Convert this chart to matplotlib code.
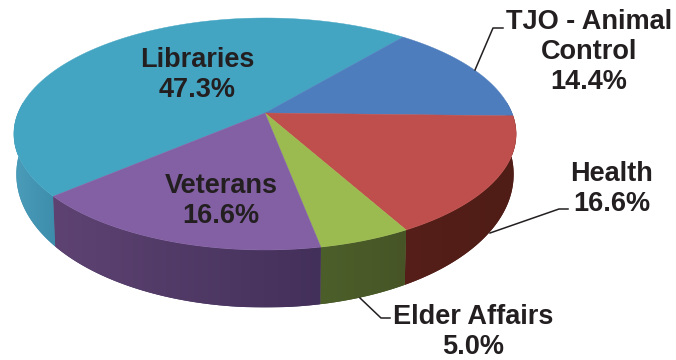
import numpy as np
import matplotlib
matplotlib.use('Agg')
import matplotlib.pyplot as plt
from matplotlib.colors import LinearSegmentedColormap
from matplotlib.patches import Polygon

labels = ['Libraries', 'TJO - Animal\nControl', 'Health', 'Elder Affairs', 'Veterans']
values = [47.3, 14.4, 16.6, 5.0, 16.6]
top_colors = ['#44a5c3', '#4e7dbd', '#bf4f4c', '#9bbb50', '#8260a3']
wall_left = ['#4a9dba', '#3d5f8f', '#561f19', '#4c5f2a', '#5e4372']
wall_right = ['#3d8cab', '#3d5f8f', '#4f1c16', '#475526', '#43305a']

# pie geometry in picture pixels, k tilts the circle into perspective
cx, cy = 265, 113
a, b, k = 247, 112.2, 0.181
start_angle = 220.9


def project(t, lower=False):
    u, v = np.cos(t), np.sin(t)
    w = 1 + k * v
    x = a * u / w
    y = -b * v / w
    if lower:
        x = x * 0.99
        y = y + 36.5 - 21 * v
    return cx + x, cy + y


fig = plt.figure(figsize=(6.76, 3.6), dpi=100)
ax = fig.add_axes([0, 0, 1, 1])

fracs = np.array(values) / sum(values)
ends = np.radians(start_angle) - np.cumsum(fracs) * 2 * np.pi
starts = np.r_[np.radians(start_angle), ends[:-1]]

# side walls first: one polygon per slice, shaded by a clipped gradient
for s, e, c1, c2 in zip(starts, ends, wall_left, wall_right):
    t = np.linspace(s, e, 300)
    t = t[np.sin(t) < 0.1]
    if len(t) < 2:
        continue
    x1, y1 = project(t)
    x2, y2 = project(t, lower=True)
    xs = np.r_[x1, x2[::-1]]
    ys = np.r_[y1, y2[::-1]]
    poly = Polygon(np.c_[xs, ys], closed=True, fc=c2, ec='none', zorder=1)
    ax.add_patch(poly)
    cmap = LinearSegmentedColormap.from_list('wall', [c1, c2])
    im = ax.imshow(np.linspace(0, 1, 256)[None, :], cmap=cmap, aspect='auto', zorder=1.1,
                   extent=[xs.min(), xs.max(), ys.max(), ys.min()])
    im.set_clip_path(poly)

# top faces
for s, e, col in zip(starts, ends, top_colors):
    t = np.linspace(s, e, 200)
    x, y = project(t)
    ax.fill(np.r_[cx, x], np.r_[cy, y], color=col, lw=0.3, zorder=2)

ax.set_xlim(0, 676)
ax.set_ylim(360, 0)
ax.axis('off')

font = dict(family='Liberation Sans', fontweight='bold', fontsize=19.5, color='#231f20',
            ha='center', va='center', linespacing=1.2, zorder=4)
ax.text(197, 75, 'Libraries\n47.3%', **font)
ax.text(221, 201, 'Veterans\n16.6%', **font)
ax.text(589, 52, 'TJO - Animal\nControl\n14.4%', **font)
ax.text(612, 189, 'Health\n16.6%', **font)
ax.text(473, 332, 'Elder Affairs\n5.0%', **font)

# leader lines
ax.plot([475, 493, 503], [70, 28, 28], color='#231f20', lw=1.1, zorder=3)
ax.plot([490, 559, 568], [233, 209, 209], color='#231f20', lw=1.1, zorder=3)
ax.plot([360, 381, 390], [298, 318, 318], color='#231f20', lw=1.1, zorder=3)

fig.savefig('out.png', dpi=100)
